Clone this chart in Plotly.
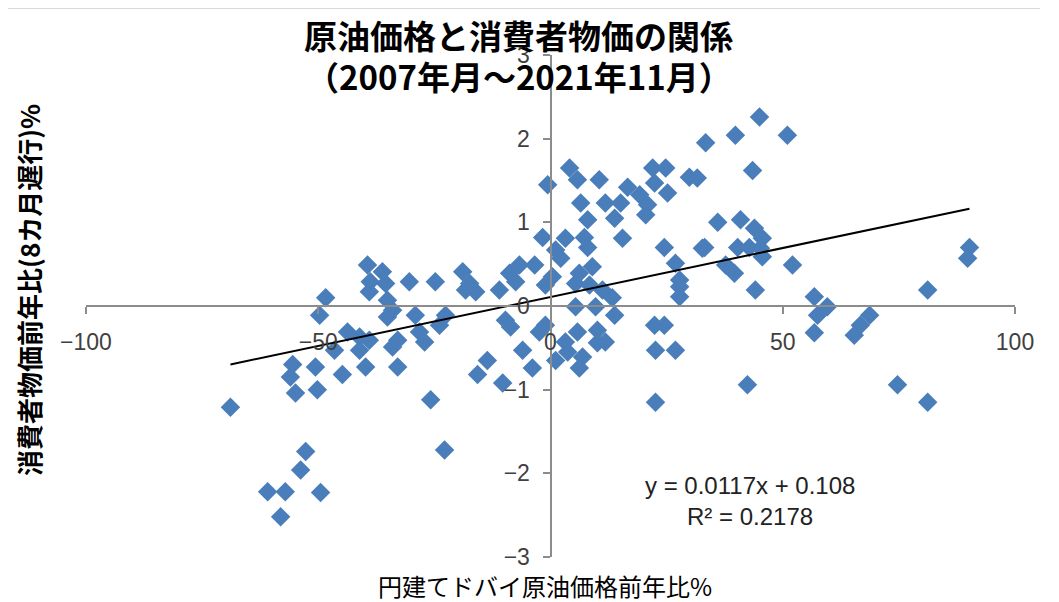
import plotly.graph_objects as go

# Dubai crude oil price in yen, year-on-year % (x)
oil_yoy = [
    -68.9, -60.9, -57.1, -58.1, -52.7, -53.8, -49.5, -55.5, -56.0, -54.9,
    -50.2, -50.6, -49.7, -48.4, -46.5, -44.8, -43.7, -41.1, -41.1, -39.8,
    -39.0, -39.4, -36.2, -38.8, -35.5, -39.0, -35.1, -34.0, -35.1, -34.0,
    -32.9, -32.9, -30.4, -29.1, -28.2, -27.1, -25.8, -24.8, -23.9, -22.6,
    -22.8, -18.9, -17.4, -18.3, -16.1, -15.7, -13.6, -11.0, -8.8, -6.7,
    -7.5, -3.4, -10.3, -9.7, -8.6, -6.0, -3.9, -2.4, -1.1, -0.6,
    -1.7, 0.4, -1.1, 1.1, 2.2, 3.2, 4.1, 5.8, 5.4, 6.2,
    9.0, 8.4, 7.3, 8.0, 8.0, 6.5, 10.5, 11.8, 15.1, 13.8,
    16.6, 19.2, 20.9, 20.5, 22.0, 24.8, 22.4, 25.2, 29.9, 31.6,
    33.4, 15.5, 24.5, 32.7, 26.9, 27.8, 27.8, 27.8, 11.2, 13.3,
    5.4, 9.7, 13.8, 5.8, 10.1, 11.8, 10.1, 3.2, 3.7, 1.1,
    6.9, 6.2, 22.4, 24.5, 22.6, 26.9, 22.6, 45.0, 39.8, 51.0,
    43.5, 36.0, 40.9, 43.9, 45.6, 33.2, 40.3, 42.8, 45.2, 45.6,
    37.7, 39.6, 52.1, 44.1, 42.4, 56.8, 59.6, 57.5, 56.8, 68.7,
    66.7, 65.4, 81.2, 90.2, 89.8, 74.7, 81.2,
]

# CPI year-on-year %, lagged 8 months (y)
cpi_yoy = [
    -1.21, -2.22, -2.22, -2.52, -1.74, -1.96, -2.23, -0.70, -0.85, -1.04,
    -1.00, -0.73, -0.11, 0.10, -0.53, -0.82, -0.31, -0.37, -0.53, -0.73,
    -0.41, 0.49, 0.41, 0.29, 0.27, 0.17, 0.07, -0.05, -0.13, -0.49,
    -0.41, -0.73, 0.29, -0.11, -0.31, -0.43, -1.12, 0.29, -0.23, -0.11,
    -1.72, 0.41, 0.27, 0.19, 0.17, -0.82, -0.65, 0.19, 0.39, 0.49,
    0.29, 0.49, -0.92, -0.17, -0.25, -0.53, -0.74, -0.31, -0.23, 1.45,
    0.82, 0.35, 0.25, 0.67, 0.57, 0.81, 1.65, 1.51, 0.27, 0.39,
    0.47, 0.25, 0.82, 0.70, 1.03, 1.23, 1.51, 1.23, 1.23, 1.05,
    1.42, 1.33, 1.21, 1.09, 1.65, 1.65, 1.47, 1.35, 1.54, 1.53,
    1.95, 0.81, 0.70, 0.69, 0.51, 0.31, 0.23, 0.11, 0.19, 0.10,
    -0.01, -0.01, -0.11, -0.31, -0.29, -0.43, -0.44, -0.43, -0.55, -0.65,
    -0.61, -0.74, -0.23, -0.23, -0.53, -0.53, -1.15, 2.26, 2.04, 2.04,
    1.62, 1.00, 1.03, 0.93, 0.81, 0.70, 0.70, 0.70, 0.69, 0.59,
    0.49, 0.39, 0.49, 0.19, -0.94, 0.11, -0.01, -0.11, -0.32, -0.11,
    -0.23, -0.35, 0.19, 0.70, 0.57, -0.94, -1.15,
]

# Linear trendline shown on the chart
slope = 0.0117
intercept = 0.108
r_squared = 0.2178

x_ticks = [-100, -50, 0, 50, 100]
x_tick_labels = ["−100", "−50", "0", "50", "100"]
y_ticks = [-3, -2, -1, 0, 1, 2, 3]
y_tick_labels = ["−3", "−2", "−1", "0", "1", "2", "3"]

title_lines = ["原油価格と消費者物価の関係", "（2007年月～2021年11月）"]
x_title = "円建てドバイ原油価格前年比%"
y_title = "消費者物価前年比(8カ月遅行)%"

trend_x = [min(oil_yoy), max(oil_yoy)]
trend_y = [slope * v + intercept for v in trend_x]

fig = go.Figure()
fig.add_trace(go.Scatter(
    x=oil_yoy, y=cpi_yoy, mode="markers",
    marker=dict(symbol="diamond", size=15, color="#4A7EBB",
                line=dict(width=0)),
    showlegend=False,
))
fig.add_trace(go.Scatter(
    x=trend_x, y=trend_y, mode="lines",
    line=dict(color="black", width=2), showlegend=False,
))

tick_font = dict(family="Liberation Sans, Arial, sans-serif", size=23, color="#404040")
cjk = "Noto Sans CJK JP"


def ann(text, x, y, size, family, color="black", angle=0):
    return dict(text=text, x=x, y=y, xref="paper", yref="paper",
                showarrow=False, xanchor="center", yanchor="middle",
                textangle=angle, font=dict(family=family, size=size, color=color))


fig.update_layout(
    width=1051, height=594,
    margin=dict(l=78, r=44, t=47, b=45),
    paper_bgcolor="white", plot_bgcolor="white",
    xaxis=dict(
        range=[-100, 100], tickvals=x_ticks, ticktext=x_tick_labels,
        anchor="free", position=0.5,
        showline=True, linecolor="#8C8C8C", linewidth=2,
        ticks="outside", ticklen=7, tickwidth=2, tickcolor="#8C8C8C",
        showgrid=False, zeroline=False, tickfont=tick_font,
        ticklabelstandoff=8,
    ),
    yaxis=dict(
        range=[-3, 3], tickvals=y_ticks, ticktext=y_tick_labels,
        anchor="free", position=0.5,
        showline=True, linecolor="#8C8C8C", linewidth=2,
        ticks="outside", ticklen=7, tickwidth=2, tickcolor="#8C8C8C",
        showgrid=False, zeroline=False, tickfont=tick_font,
        ticklabelstandoff=8,
    ),
    annotations=[
        ann("<b>" + title_lines[0] + "</b>", 0.466, 1.040, 33, cjk),
        ann("<b>" + title_lines[1] + "</b>", 0.466, 0.958, 33, cjk),
        ann(x_title, 0.494, -0.0558, 24, cjk),
        ann("<b>" + y_title + "</b>", -0.0614, 0.532, 26, cjk, angle=-90),
        ann(f"y = {slope}x + {intercept}", 0.7147, 0.1434, 24,
            "Liberation Sans, Arial, sans-serif", "#222222"),
        ann(f"R² = {r_squared}", 0.7147, 0.0797, 24,
            "Liberation Sans, Arial, sans-serif", "#222222"),
    ],
    shapes=[
        dict(type="line", xref="paper", yref="paper",
             x0=-0.084, x1=1.027, y0=1.0936, y1=1.0936,
             line=dict(color="#D9D9D9", width=2)),
    ],
)

fig.write_html("out.html")
